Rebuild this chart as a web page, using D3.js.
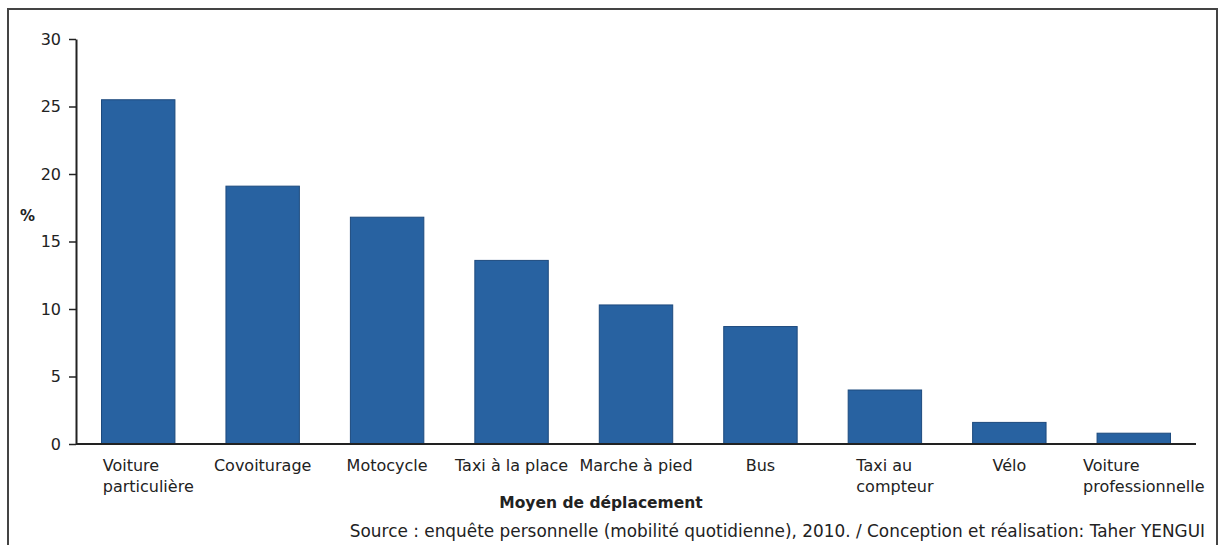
<html>
<head>
    <style>
        body { margin: 0; background: #fff; }
        text { font-family: "DejaVu Sans", Verdana, sans-serif; fill: #222; }
    </style>
</head>
<body>
    <svg id="container" width="1219" height="545"></svg>
</body>
<script src="https://d3js.org/d3.v7.min.js"></script>
<script>
    // data
    let categories = [
        ["Voiture", "particulière"],
        ["Covoiturage"],
        ["Motocycle"],
        ["Taxi à la place"],
        ["Marche à pied"],
        ["Bus"],
        ["Taxi au", "compteur"],
        ["Vélo"],
        ["Voiture", "professionnelle"]
    ]
    let values = [25.5, 19.1, 16.8, 13.6, 10.3, 8.7, 4.0, 1.6, 0.8]
    let yTicks = [0, 5, 10, 15, 20, 25, 30]

    let svg = d3.select("#container")

    // frame round the figure (open at the bottom)
    svg.append("path")
        .attr("d", "M8,545 L8,9 L1217,9 L1217,545")
        .attr("fill", "none")
        .attr("stroke", "#444")
        .attr("stroke-width", 2)

    let plotLeft = 76, plotRight = 1196, plotTop = 39, plotBottom = 444

    let xScale = d3.scaleBand()
        .domain(d3.range(categories.length))
        .range([plotLeft, plotRight])
        .paddingInner(0.41)
        .paddingOuter(0.205)

    let yScale = d3.scaleLinear()
        .domain([0, 30])
        .range([plotBottom, plotTop])

    // bars
    svg.append("g")
        .selectAll("rect")
        .data(values)
        .join("rect")
        .attr("x", (d, i) => xScale(i))
        .attr("y", d => yScale(d))
        .attr("width", xScale.bandwidth())
        .attr("height", d => yScale(0) - yScale(d))
        .attr("fill", "#2862a1")
        .attr("stroke", "#1d4a7e")
        .attr("stroke-width", 1)

    // y axis
    let yAxis = svg.append("g")
        .attr("transform", "translate(" + plotLeft + ",0)")
        .call(d3.axisLeft(yScale).tickValues(yTicks).tickSize(7).tickSizeOuter(0).tickPadding(8))
    yAxis.select(".domain").attr("stroke", "#222").attr("stroke-width", 2)
    yAxis.selectAll(".tick line").attr("stroke", "#222").attr("stroke-width", 1.5)
    yAxis.selectAll(".tick text")
        .style("font-size", "16px")
        .style("font-family", "DejaVu Sans")
        .attr("fill", "#222")

    // x axis line
    svg.append("line")
        .attr("x1", plotLeft).attr("x2", plotRight)
        .attr("y1", yScale(0)).attr("y2", yScale(0))
        .attr("stroke", "#222")
        .attr("stroke-width", 2)

    // category labels, lines left aligned, block centred under bar
    let labels = svg.append("g")
    categories.forEach((lines, i) => {
        let cx = xScale(i) + xScale.bandwidth() / 2
        let t = labels.append("text")
            .style("font-size", "16px")
        lines.forEach((ln, j) => {
            t.append("tspan")
                .attr("y", 471 + j * 21)
                .text(ln)
        })
        let w = d3.max(t.selectAll("tspan").nodes(), n => n.getComputedTextLength())
        let shift = lines.length > 1 ? 10 : 0
        t.selectAll("tspan").attr("x", cx - w / 2 + shift)
    })

    // axis titles
    svg.append("text")
        .attr("x", 601)
        .attr("y", 508)
        .attr("text-anchor", "middle")
        .style("font-size", "15.5px")
        .style("font-weight", "bold")
        .text("Moyen de déplacement")

    svg.append("text")
        .attr("x", 20)
        .attr("y", 221)
        .style("font-size", "15px")
        .style("font-weight", "bold")
        .text("%")

    // source line
    svg.append("text")
        .attr("x", 1205)
        .attr("y", 537)
        .attr("text-anchor", "end")
        .style("font-size", "16.9px")
        .text("Source : enquête personnelle (mobilité quotidienne), 2010. / Conception et réalisation: Taher YENGUI")
</script>
</html>
